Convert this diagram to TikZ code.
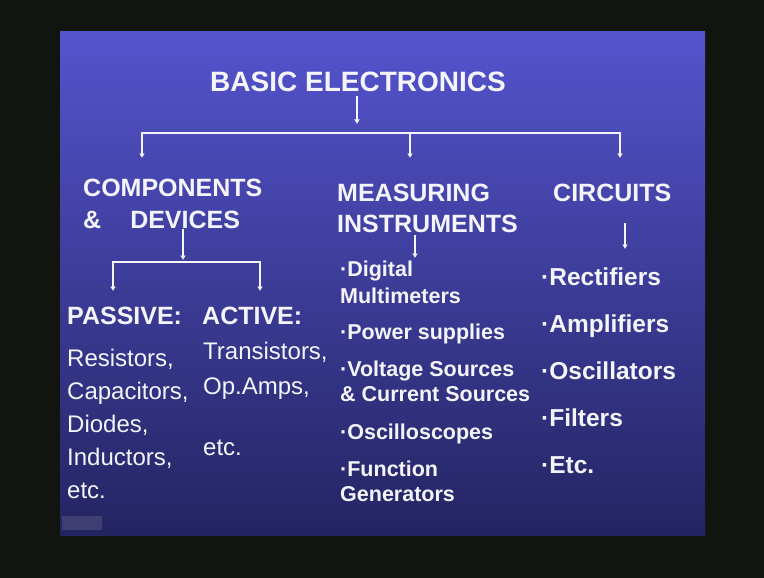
\documentclass[tikz,border=0pt]{standalone}
\usepackage{fontspec}
\setmainfont{Liberation Sans}
\usetikzlibrary{arrows.meta}

\definecolor{frame}{RGB}{18,20,16}
\definecolor{slidetop}{RGB}{84,84,206}
\definecolor{slidemid}{RGB}{62,62,166}
\definecolor{slidebot}{RGB}{36,36,98}
\definecolor{ink}{RGB}{244,244,250}

\begin{document}
\begin{tikzpicture}[x=1pt,y=-1pt,
	wire/.style={ink,line width=2.6pt},
	tip/.style={wire,-{Latex[length=4.5pt,width=6pt]}},
	title/.style={anchor=base,inner sep=0pt,text=ink,font=\bfseries\fontsize{28}{28}\selectfont},
	head/.style={anchor=base west,inner sep=0pt,text=ink,font=\bfseries\fontsize{25}{25}\selectfont},
	part/.style={anchor=base west,inner sep=0pt,text=ink,font=\fontsize{24}{24}\selectfont},
	instr/.style={anchor=base west,inner sep=0pt,text=ink,font=\bfseries\fontsize{21.5}{21.5}\selectfont},
	circ/.style={anchor=base west,inner sep=0pt,text=ink,font=\bfseries\fontsize{24.5}{24.5}\selectfont}]

	% frame and slide
	\fill[frame] (0,0) rectangle (764,578);
	\shade[top color=slidetop,middle color=slidemid,bottom color=slidebot] (60,32) rectangle (705,535);
	\fill[gray!60,opacity=0.18] (62,516) rectangle (102,530);

	% headings
	\node[title] (basic) at (358,92) {BASIC ELECTRONICS};
	\node[head] (comp) at (83,196) {COMPONENTS};
	\node[head] (dev) at (83,228) {\&\hspace*{29pt}DEVICES};
	\node[head] (meas) at (337,201) {MEASURING};
	\node[head] (inst) at (337,232) {INSTRUMENTS};
	\node[head] (circuits) at (553,201) {CIRCUITS};

	% components & devices
	\node[head] (passive) at (67,324) {PASSIVE:};
	\node[head] (active) at (202,324) {ACTIVE:};
	\node[part] (res) at (67,366) {Resistors,};
	\node[part] (cap) at (67,399) {Capacitors,};
	\node[part] (dio) at (67,432) {Diodes,};
	\node[part] (ind) at (67,465) {Inductors,};
	\node[part] (etcp) at (67,498) {etc.};
	\node[part] (tra) at (203,359) {Transistors,};
	\node[part] (opa) at (203,394) {Op.Amps,};
	\node[part] (etca) at (203,455) {etc.};

	% measuring instruments
	\node[instr] (dig) at (340,276) {·Digital};
	\node[instr] (mul) at (340,303) {Multimeters};
	\node[instr] (pow) at (340,339) {·Power supplies};
	\node[instr] (vol) at (340,376) {·Voltage Sources};
	\node[instr] (cur) at (340,401) {\& Current Sources};
	\node[instr] (osc) at (340,439) {·Oscilloscopes};
	\node[instr] (fun) at (340,476) {·Function};
	\node[instr] (gen) at (340,501) {Generators};

	% circuits
	\node[circ] (rec) at (541,285) {·Rectifiers};
	\node[circ] (amp) at (541,332) {·Amplifiers};
	\node[circ] (osl) at (541,379) {·Oscillators};
	\node[circ] (fil) at (541,426) {·Filters};
	\node[circ] (etcc) at (541,473) {·Etc.};

	% tree
	\coordinate (T) at (357,96);
	\coordinate (J) at (357,124);
	\coordinate (B) at (410,133);
	\coordinate (A1) at (142,158);
	\coordinate (A2) at (410,158);
	\coordinate (A3) at (620,158);
	\draw[tip] (T) -- (J);
	\draw[tip] (B) -| (A1);
	\draw[tip] (B) -| (A3);
	\draw[tip] (B) -- (A2);

	\coordinate (D) at (183,229);
	\coordinate (K) at (183,260);
	\coordinate (P) at (183,262);
	\coordinate (P1) at (113,291);
	\coordinate (P2) at (260,291);
	\draw[tip] (D) -- (K);
	\draw[tip] (P) -| (P1);
	\draw[tip] (P) -| (P2);

	\coordinate (M1) at (415,235);
	\coordinate (M2) at (415,258);
	\draw[tip] (M1) -- (M2);
	\coordinate (C1) at (625,223);
	\coordinate (C2) at (625,249);
	\draw[tip] (C1) -- (C2);
\end{tikzpicture}
\end{document}
